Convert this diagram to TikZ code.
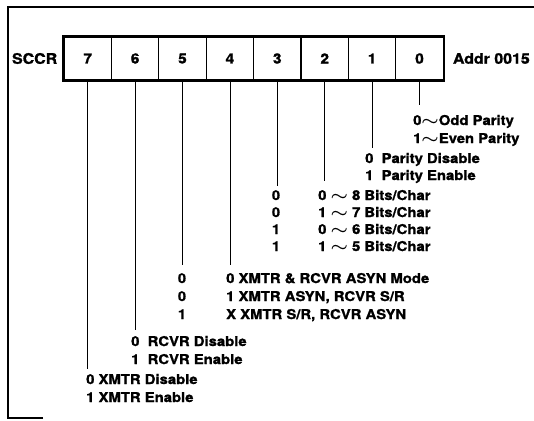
\documentclass[tikz,border=0pt]{standalone}
\usepackage{fontspec}
\setmainfont[FakeStretch=1.1,BoldFeatures={FakeBold=1.3}]{TeX Gyre Heros}
\usetikzlibrary{positioning}
\newcommand{\tld}{{\boldmath\scalebox{1.35}[1.1]{$\sim$}}}
\tikzset{%
  cell/.style={draw,line width=1.1pt,minimum width=47.4pt,minimum height=43pt,inner sep=0pt,font=\fontsize{14}{14}\selectfont\bfseries},
  reg/.style={inner sep=0pt,font=\fontsize{14.5}{14.5}\selectfont\bfseries},
  lbl/.style={anchor=base west,inner sep=0pt,font=\fontsize{13.5}{13.5}\selectfont\bfseries},
  col/.style={anchor=base,inner sep=0pt,font=\fontsize{13.5}{13.5}\selectfont\bfseries},
  lead/.style={draw,line width=0.8pt}
}
\begin{document}
\begin{tikzpicture}[x=1pt,y=-1pt]
\useasboundingbox (0,0) rectangle (534,420);
% frame
\draw[line width=1.2pt] (43,418) -- (8,418) -- (8,7) -- (534,7);
% register
\foreach \b [count=\k from 0] in {7,...,0}
  \node[cell] (c\b) at (87.7+47.4*\k,58.5) {\b};
\draw[line width=2pt] (c7.north west) rectangle (c0.south east);
\node[reg,left=6pt of c7] (sccr) {SCCR};
\node[reg,right=9pt of c0] (addr) {Addr 0015};
% leads
\foreach \b/\e in {0/105,1/148,2/181,3/186,4/265,5/265,6/330,7/369}{
  \coordinate (e\b) at (c\b.south |- 0,\e);
  \draw[lead] (c\b.south) -- (e\b);
}
% bit 0
\node[lbl] (p0) at (413,125) {0\tld Odd Parity};
\node[lbl] (p1) at (413,143) {1\tld Even Parity};
% bit 1
\node[lbl] (pd) at (365,163) {0\ \ Parity Disable};
\node[lbl] (pe) at (365,180) {1\ \ Parity Enable};
% bits 3,2
\foreach \v/\y [count=\k] in {0/200,0/217,1/234,1/251}
  \node[col] (w\k) at (276,\y) {\v};
\node[lbl] (w8) at (318,200) {0 \tld\ 8 Bits/Char};
\node[lbl] (w7) at (318,217) {1 \tld\ 7 Bits/Char};
\node[lbl] (w6) at (318,234) {0 \tld\ 6 Bits/Char};
\node[lbl] (w5) at (318,251) {1 \tld\ 5 Bits/Char};
% bits 5,4
\foreach \v/\y [count=\k] in {0/283,0/301,1/319}
  \node[col] (m\k) at (182,\y) {\v};
\node[lbl] (ma) at (226,283) {0 XMTR \& RCVR ASYN Mode};
\node[lbl] (mb) at (226,301) {1 XMTR ASYN, RCVR S/R};
\node[lbl] (mc) at (226,319) {X XMTR S/R, RCVR ASYN};
% bit 6
\node[lbl] (rd) at (131,346) {0\ \ RCVR Disable};
\node[lbl] (re) at (131,364) {1\ \ RCVR Enable};
% bit 7
\node[lbl] (xd) at (86,384) {0 XMTR Disable};
\node[lbl] (xe) at (86,402) {1 XMTR Enable};
\end{tikzpicture}
\end{document}
